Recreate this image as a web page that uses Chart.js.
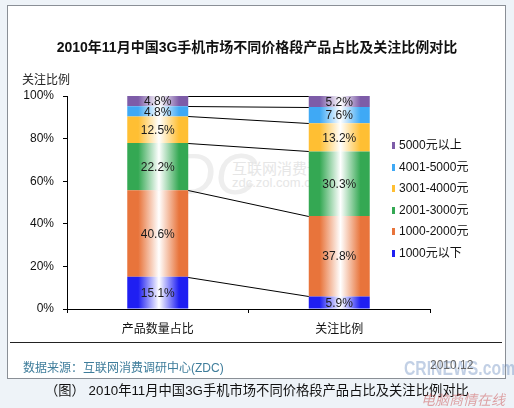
<!DOCTYPE html>
<html>
<head>
<meta charset="utf-8">
<script src="https://cdn.jsdelivr.net/npm/chart.js@4.4.0/dist/chart.umd.min.js"></script>
<style>
  html, body { margin: 0; padding: 0; }
  body {
    width: 514px; height: 408px; position: relative; overflow: hidden;
    background: #eef3f8;
    font-family: "Liberation Sans", "Noto Sans CJK SC", sans-serif;
  }
  #panel {
    position: absolute; left: 7px; top: 5px; width: 497px; height: 372px;
    background: #fff; border: 1px solid #8a8f96;
  }
  #exChart { position: absolute; left: 0; top: 0; }
  .txt { position: absolute; white-space: nowrap; }
  #title { left: 0; width: 514px; top: 36px; text-align: center; font-size: 14px; font-weight: bold; color: #111; }
  #ytitle { left: 22px; top: 70px; font-size: 12px; color: #222; }
  #sep { position: absolute; left: 10px; top: 342px; width: 492px; height: 1px; background: #222; }
  #source { left: 23px; top: 358px; font-size: 12px; color: #3f7d9b; }
  #date { left: 430px; top: 358px; font-size: 12px; color: #666; }
  #caption { left: 45px; top: 380px; font-size: 13.3px; color: #111; }
  #legend { position: absolute; left: 392px; top: 137px; font-size: 12px; color: #111; }
  #legend div { height: 21.5px; line-height: 16px; position: relative; padding-left: 7px; }
  #legend span.box { position: absolute; left: 0; top: 5px; width: 3px; height: 7px; }
  .wm { position: absolute; white-space: nowrap; }
</style>
</head>
<body>
<div id="panel"></div>
<div class="wm" style="left:138px;top:140px;font-size:58px;font-style:italic;color:#eeeeee;font-family:'Liberation Sans';">ZDC</div>
<div class="wm" style="left:232px;top:157px;font-size:15px;color:#e6e6e6;">互联网消费调研中心</div>
<div class="wm" style="left:232px;top:175px;font-size:13px;color:#e6e6e6;">zdc.zol.com.cn</div>
<canvas id="exChart" width="514" height="408"></canvas>
<div id="title" class="txt">2010年11月中国3G手机市场不同价格段产品占比及关注比例对比</div>
<div id="ytitle" class="txt">关注比例</div>
<div id="legend"></div>
<div id="sep"></div>
<div id="source" class="txt">数据来源：互联网消费调研中心(ZDC)</div>
<div class="wm" style="left:404px;top:356px;font-size:21px;font-weight:bold;color:rgba(80,120,180,0.35);transform:scaleX(0.75);transform-origin:left top;">CRINEWS.com</div>
<div id="date" class="txt">2010.12</div>
<div id="caption" class="txt">（图） 2010年11月中国3G手机市场不同价格段产品占比及关注比例对比</div>
<div class="wm" style="left:421px;top:389px;font-size:14px;font-style:italic;color:rgba(200,60,60,0.45);">电脑商情在线</div>

<script>
// categories on the x axis
const categories = ["产品数量占比", "关注比例"];

// price segments, bottom to top of each stack
const seriesNames = ["1000元以下", "1000-2000元", "2001-3000元", "3001-4000元", "4001-5000元", "5000元以上"];
const seriesColors = ["#1f1ff2", "#e8743b", "#34a853", "#ffbf33", "#3fa9f5", "#7d5ca8"];

// values in %, [产品数量占比, 关注比例]
const under1000 = [15.1, 5.9];
const p1000to2000 = [40.6, 37.8];
const p2001to3000 = [22.2, 30.3];
const p3001to4000 = [12.5, 13.2];
const p4001to5000 = [4.8, 7.6];
const over5000 = [4.8, 5.2];
const seriesValues = [under1000, p1000to2000, p2001to3000, p3001to4000, p4001to5000, over5000];

const yTicks = [0, 20, 40, 60, 80, 100];

const barPct = 0.336;

function barGradient(c) {
    const chart = c.chart;
    const xs = chart.scales.x;
    const color = seriesColors[c.datasetIndex];
    if (!xs || !chart.chartArea || c.dataIndex === undefined) return color;
    const center = xs.getPixelForValue(c.dataIndex);
    const half = (xs.width / categories.length) * barPct / 2;
    const g = chart.ctx.createLinearGradient(center - half, 0, center + half, 0);
    g.addColorStop(0, color);
    g.addColorStop(0.18, color);
    g.addColorStop(0.52, "#ffffff");
    g.addColorStop(0.85, color);
    g.addColorStop(1, color);
    return g;
}

function getDatasets() {
    const datasets = [];
    for (let i = 0; i < seriesNames.length; i++) {
        datasets.push({
            label: seriesNames[i],
            data: seriesValues[i],
            backgroundColor: barGradient,
            borderWidth: 0,
            stack: "share",
        });
    }
    return datasets;
}

// lines joining the top of each segment across the two bars
const connectorPlugin = {
    id: "connectors",
    afterDatasetsDraw(chart) {
        const ctx = chart.ctx;
        ctx.save();
        ctx.strokeStyle = "#000";
        ctx.lineWidth = 1;
        chart.data.datasets.forEach((ds, i) => {
            const meta = chart.getDatasetMeta(i);
            const a = meta.data[0];
            const b = meta.data[1];
            ctx.beginPath();
            ctx.moveTo(a.x + a.width / 2, Math.round(a.y) + 0.5);
            ctx.lineTo(b.x - b.width / 2, Math.round(b.y) + 0.5);
            ctx.stroke();
        });
        ctx.restore();
    },
};

// percent labels in the middle of each segment
const labelPlugin = {
    id: "segLabels",
    afterDatasetsDraw(chart) {
        const ctx = chart.ctx;
        ctx.save();
        ctx.font = "12px 'Liberation Sans', sans-serif";
        ctx.fillStyle = "#1a1a1a";
        ctx.textAlign = "center";
        ctx.textBaseline = "middle";
        chart.data.datasets.forEach((ds, i) => {
            chart.getDatasetMeta(i).data.forEach((bar, j) => {
                ctx.fillText(ds.data[j].toFixed(1) + "%", bar.x, (bar.y + bar.base) / 2 + 1);
            });
        });
        ctx.restore();
    },
};

function buildLegend() {
    const box = document.getElementById("legend");
    for (let i = seriesNames.length - 1; i >= 0; i--) {
        const row = document.createElement("div");
        row.innerHTML = '<span class="box" style="background:' + seriesColors[i] + '"></span>' + seriesNames[i];
        box.appendChild(row);
    }
}

function drawChart() {
    const ctx = document.getElementById("exChart").getContext("2d");
    new Chart(ctx, {
        type: "bar",
        data: {
            labels: categories,
            datasets: getDatasets(),
        },
        options: {
            responsive: false,
            animation: false,
            categoryPercentage: 1,
            barPercentage: barPct,
            layout: { padding: { top: 96, right: 84, left: 0, bottom: 0 } },
            plugins: {
                legend: { display: false },
                title: { display: false },
                tooltip: { enabled: false },
            },
            scales: {
                x: {
                    stacked: true,
                    border: { color: "#000", width: 1 },
                    grid: { drawOnChartArea: false, color: "#000", tickLength: 4 },
                    ticks: {
                        color: "#111",
                        padding: 9,
                        font: { size: 12, family: "'Liberation Sans', 'Noto Sans CJK SC', sans-serif" },
                    },
                    afterFit(scale) { scale.height = 99; },
                },
                y: {
                    stacked: true,
                    min: 0,
                    max: 100,
                    border: { color: "#000", width: 1 },
                    grid: { drawOnChartArea: false, color: "#000", tickLength: 4 },
                    afterBuildTicks(scale) { scale.ticks = yTicks.map(v => ({ value: v })); },
                    ticks: {
                        color: "#111",
                        padding: 9,
                        font: { size: 12, family: "'Liberation Sans', sans-serif" },
                        callback: v => v + "%",
                    },
                    afterFit(scale) { scale.width = 67; },
                },
            },
        },
        plugins: [connectorPlugin, labelPlugin],
    });
}

buildLegend();
drawChart();
</script>
</body>
</html>
